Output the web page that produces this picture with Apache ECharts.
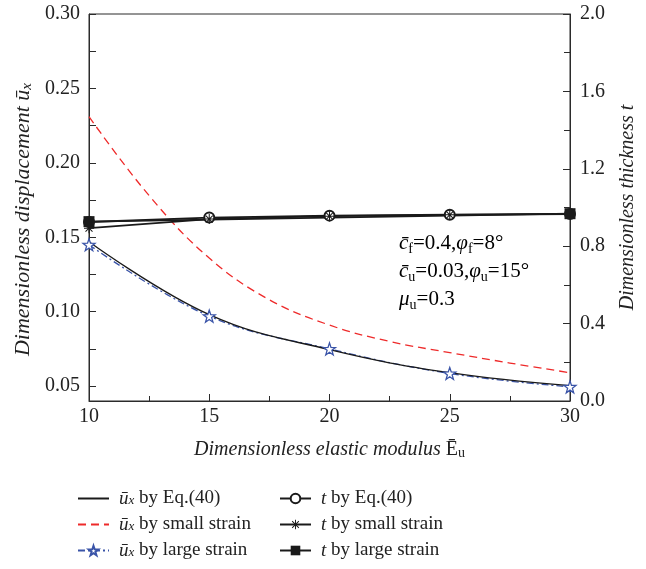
<!DOCTYPE html>
<html><head><meta charset="utf-8">
<script src="https://cdn.jsdelivr.net/npm/echarts@6/dist/echarts.min.js"></script>
<style>html,body{margin:0;padding:0;background:#fff}#c{width:646px;height:569px}</style>
</head><body><div id="c"></div>
<script>
// ---- data ----
const E = [10, 15, 20, 25, 30];
const E_small = [10, 12.5, 15, 17.5, 20, 22.5, 25, 27.5, 30];
const ux_eq40 = [0.147, 0.098, 0.0745, 0.059, 0.0503];
const ux_small = [0.231, 0.178, 0.136, 0.108, 0.091, 0.080, 0.0725, 0.0655, 0.059];
const ux_large = [0.145, 0.097, 0.075, 0.0585, 0.0495];
const t_eq40 = [0.925, 0.948, 0.958, 0.963, 0.967];
const t_small = [0.893, 0.940, 0.955, 0.962, 0.966];
const t_large = [0.927, null, null, null, 0.968];
const leftLabels = [0.05, 0.10, 0.15, 0.20, 0.25, 0.30];
const leftTicks = [0.05, 0.075, 0.10, 0.125, 0.15, 0.175, 0.20, 0.225, 0.25, 0.275, 0.30];

const SERIF = '"Liberation Serif", "DejaVu Serif", serif';
const AX = '#2b2b2b';
function mkRich(fs, sfs) {
  return {
    g: {width: 5},
    i: {fontFamily: SERIF, fontStyle: 'italic', fontSize: fs, color: '#222'},
    n: {fontFamily: SERIF, fontSize: fs, color: '#222'},
    sub: {fontFamily: SERIF, fontStyle: 'italic', fontSize: sfs, color: '#222', verticalAlign: 'bottom', lineHeight: sfs},
    subn: {fontFamily: SERIF, fontSize: sfs, color: '#222', verticalAlign: 'bottom', lineHeight: sfs}
  };
}
const richTitle = mkRich(20, 14);
const richLeftTitle = mkRich(22, 15);
const richLegend = mkRich(19, 13);
const richNote = mkRich(21, 14);
const pairs = (xs, ys) => xs.map((x, k) => [x, ys[k]]);

const STAR = 'path://M0,-10 L2.351,-3.236 L9.511,-3.090 L3.804,1.236 L5.878,8.090 L0,4 L-5.878,8.090 L-3.804,1.236 L-9.511,-3.090 L-2.351,-3.236 Z';
const ASTER = 'path://M-1,-10 L1,-10 L1,10 L-1,10 Z M-10,-1 L10,-1 L10,1 L-10,1 Z M-7.7,-6.3 L-6.3,-7.7 L7.7,6.3 L6.3,7.7 Z M-6.3,7.7 L-7.7,6.3 L6.3,-7.7 L7.7,-6.3 Z';

const legendNames = {
  'ux_eq': '{g|}{i|ū}{sub|x}{n| by Eq.(40)}',
  'ux_small': '{g|}{i|ū}{sub|x}{n| by small strain}',
  'ux_large': '{g|}{i|ū}{sub|x}{n| by large strain}',
  't_eq': '{g|}{i|t}{n| by Eq.(40)}',
  't_small': '{g|}{i|t}{n| by small strain}',
  't_large': '{g|}{i|t}{n| by large strain}'
};

const chart = echarts.init(document.getElementById('c'), null, {renderer: 'canvas'});
const legendCommon = {
  orient: 'vertical', itemWidth: 31, itemHeight: 12, itemGap: 7, padding: 0, height: 80,
  textStyle: {fontFamily: SERIF, fontSize: 19, color: '#222', rich: richLegend, lineHeight: 18},
  formatter: n => legendNames[n]
};
chart.setOption({
  backgroundColor: '#fff',
  animation: false,
  grid: {left: 89, right: 76, top: 14, bottom: 168, show: true, borderColor: AX, borderWidth: 1, backgroundColor: 'transparent'},
  legend: [
    Object.assign({left: 77, top: 489, data: [
      {name: 'ux_eq', itemStyle: {opacity: 0}},
      {name: 'ux_small', itemStyle: {opacity: 0}},
      {name: 'ux_large'}
    ]}, legendCommon),
    Object.assign({left: 279, top: 489, data: [
      {name: 't_eq'},
      {name: 't_small'},
      {name: 't_large'}
    ]}, legendCommon)
  ],
  xAxis: {
    type: 'value', min: 10, max: 30, interval: 5,
    name: '{i|Dimensionless elastic modulus }{n|Ē}{subn|u}',
    nameLocation: 'middle', nameGap: 39,
    nameTextStyle: {rich: richTitle},
    axisLine: {lineStyle: {color: AX, width: 1}},
    axisTick: {inside: true, length: 7, lineStyle: {color: AX}},
    minorTick: {show: true, splitNumber: 2, length: 5, lineStyle: {color: AX}},
    axisLabel: {margin: 6, fontFamily: SERIF, fontSize: 20, color: '#222'},
    splitLine: {show: false}, minorSplitLine: {show: false}
  },
  yAxis: [{
    type: 'value', min: 0.04, max: 0.30, position: 'left',
    name: '{i|Dimensionless displacement ū}{sub|x}',
    nameLocation: 'middle', nameGap: 54, nameRotate: 90,
    nameTextStyle: {rich: richLeftTitle, padding: [0, 24, 0, 0]},
    axisLine: {show: true, lineStyle: {color: AX, width: 1}},
    axisTick: {inside: true, length: 7, lineStyle: {color: AX}, customValues: leftTicks},
    axisLabel: {margin: 9, fontFamily: SERIF, fontSize: 20, color: '#222', customValues: leftLabels,
      formatter: v => v.toFixed(2)},
    splitLine: {show: false}
  }, {
    type: 'value', min: 0, max: 2.0, interval: 0.4, position: 'right',
    name: '{i|Dimensionless thickness t}',
    nameLocation: 'middle', nameGap: 48, nameRotate: 90,
    nameTextStyle: {rich: richTitle},
    axisLine: {show: true, lineStyle: {color: AX, width: 1}},
    axisTick: {inside: true, length: 7, lineStyle: {color: AX}},
    minorTick: {show: true, splitNumber: 2, length: 6, lineStyle: {color: AX}},
    axisLabel: {margin: 10, fontFamily: SERIF, fontSize: 20, color: '#222', formatter: v => v.toFixed(1)},
    splitLine: {show: false}, minorSplitLine: {show: false}
  }],
  graphic: [
    {type: 'text', left: 399, top: 231, style: {text: '{i|c̄}{subn|f}{n|=0.4,}{i|φ}{subn|f}{n|=8°}', rich: richNote, lineHeight: 25}},
    {type: 'text', left: 399, top: 259, style: {text: '{i|c̄}{subn|u}{n|=0.03,}{i|φ}{subn|u}{n|=15°}', rich: richNote, lineHeight: 25}},
    {type: 'text', left: 399, top: 287, style: {text: '{i|μ}{subn|u}{n|=0.3}', rich: richNote, lineHeight: 25}}
  ],
  series: [
    {name: 'ux_large', type: 'line', yAxisIndex: 0, data: pairs(E, ux_large), smooth: 0.4,
      symbol: STAR, symbolSize: 12, showAllSymbol: true,
      lineStyle: {color: '#3a54a8', width: 1.3, type: [7, 3, 2, 3]},
      itemStyle: {color: '#fff', borderColor: '#3a54a8', borderWidth: 1.3}},
    {name: 'ux_eq', type: 'line', yAxisIndex: 0, data: pairs(E, ux_eq40), smooth: 0.4,
      symbol: 'none', lineStyle: {color: '#1a1a1a', width: 1.3}, itemStyle: {color: '#1a1a1a'}},
    {name: 'ux_small', type: 'line', yAxisIndex: 0, data: pairs(E_small, ux_small), smooth: 0.4,
      symbol: 'none', lineStyle: {color: '#ee2a2a', width: 1.3, type: [8, 5]}, itemStyle: {color: '#ee2a2a'}},
    {name: 't_eq', type: 'line', yAxisIndex: 1, data: pairs(E, t_eq40),
      symbol: 'emptyCircle', symbolSize: 10,
      lineStyle: {color: '#1a1a1a', width: 1.8},
      itemStyle: {color: '#1a1a1a', borderWidth: 1.2}},
    {name: 't_small', type: 'line', yAxisIndex: 1, data: pairs(E, t_small),
      symbol: ASTER, symbolSize: 10,
      lineStyle: {color: '#1a1a1a', width: 1.8},
      itemStyle: {color: '#1a1a1a'}},
    {name: 't_large', type: 'line', yAxisIndex: 1, data: pairs(E, t_large), connectNulls: true,
      symbol: 'rect', symbolSize: 11,
      lineStyle: {color: '#1a1a1a', width: 1.8},
      itemStyle: {color: '#1a1a1a'}}
  ]
});
</script></body></html>
